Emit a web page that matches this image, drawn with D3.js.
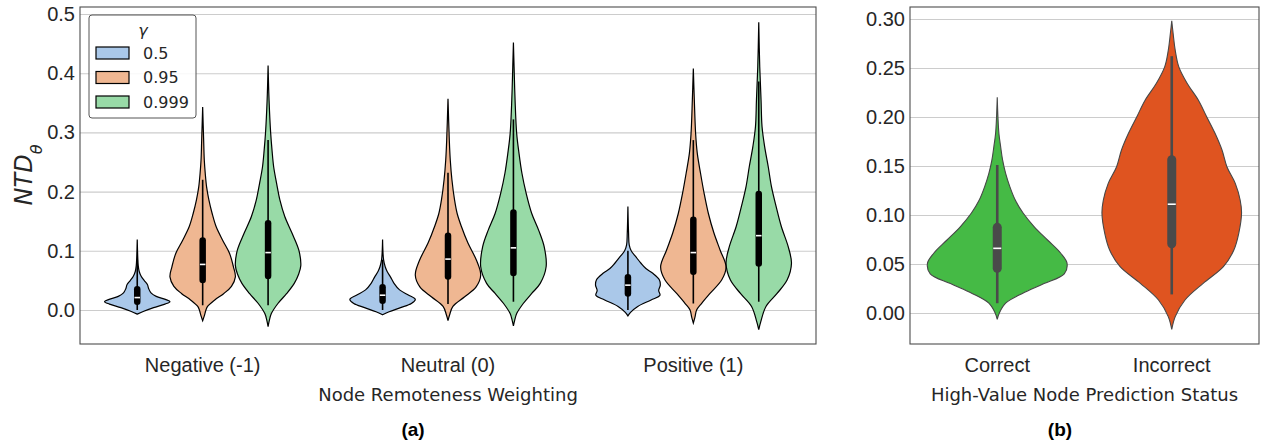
<!DOCTYPE html>
<html>
<head>
<meta charset="utf-8">
<script src="https://cdn.jsdelivr.net/npm/d3@7"></script>
<style>
  body { margin: 0; background: #fff; }
  svg { font-family: "DejaVu Sans", sans-serif; }
</style>
</head>
<body>
<svg width="1262" height="445"></svg>
<script>
// panel (a) categories and gamma groups
var catsA = ["Negative (-1)", "Neutral (0)", "Positive (1)"];
var gammas = ["0.5", "0.95", "0.999"];
var gammaColors = ["#aac8e9", "#efb792", "#98daa7"];
var ticksA = [0.0, 0.1, 0.2, 0.3, 0.4, 0.5];

// violin outlines: [value, relative half width]
var neg05 = [[-0.007,0],[-0.002,0.2],[0.004,0.5],[0.010,0.85],[0.014,1.0],[0.018,0.86],[0.023,0.58],[0.029,0.42],[0.036,0.35],[0.043,0.31],[0.050,0.21],[0.057,0.12],[0.065,0.06],[0.075,0.03],[0.09,0.015],[0.119,0]];
var neg095 = [[-0.018,0],[-0.01,0.05],[0.0,0.1],[0.006,0.15],[0.017,0.37],[0.028,0.65],[0.04,0.88],[0.056,1.0],[0.073,0.94],[0.096,0.82],[0.118,0.61],[0.141,0.41],[0.163,0.29],[0.186,0.19],[0.208,0.12],[0.23,0.08],[0.253,0.05],[0.287,0.03],[0.343,0]];
var neg0999 = [[-0.028,0],[-0.017,0.04],[-0.006,0.1],[0.011,0.3],[0.028,0.57],[0.045,0.8],[0.06,0.93],[0.075,1.0],[0.101,0.94],[0.13,0.73],[0.158,0.51],[0.186,0.36],[0.214,0.26],[0.242,0.17],[0.27,0.12],[0.298,0.08],[0.354,0.03],[0.413,0]];
var neu05 = [[-0.008,0],[-0.003,0.2],[0.004,0.55],[0.011,0.88],[0.018,1.0],[0.025,0.8],[0.034,0.52],[0.045,0.35],[0.056,0.24],[0.065,0.14],[0.073,0.08],[0.085,0.03],[0.119,0]];
var neu095 = [[-0.018,0],[-0.008,0.05],[0.006,0.15],[0.022,0.5],[0.039,0.86],[0.059,1.0],[0.084,0.87],[0.113,0.61],[0.141,0.41],[0.163,0.28],[0.186,0.2],[0.22,0.12],[0.253,0.07],[0.287,0.04],[0.357,0]];
var neu0999 = [[-0.027,0],[-0.017,0.04],[-0.006,0.1],[0.011,0.3],[0.028,0.56],[0.045,0.82],[0.073,1.0],[0.107,0.94],[0.135,0.77],[0.163,0.56],[0.197,0.39],[0.231,0.26],[0.265,0.17],[0.298,0.1],[0.355,0.05],[0.411,0.02],[0.452,0]];
var pos05 = [[-0.01,0],[-0.004,0.08],[0.006,0.3],[0.017,0.71],[0.025,0.98],[0.033,0.94],[0.042,0.99],[0.051,0.96],[0.062,0.76],[0.07,0.55],[0.079,0.4],[0.09,0.24],[0.1,0.1],[0.11,0.04],[0.13,0.02],[0.175,0]];
var pos095 = [[-0.022,0],[-0.012,0.05],[0.0,0.1],[0.011,0.25],[0.028,0.51],[0.051,0.87],[0.073,1.0],[0.101,0.82],[0.13,0.63],[0.163,0.46],[0.197,0.33],[0.231,0.22],[0.265,0.12],[0.298,0.07],[0.355,0.03],[0.408,0]];
var pos0999 = [[-0.033,0],[-0.02,0.06],[0.006,0.22],[0.028,0.56],[0.051,0.87],[0.079,1.0],[0.107,0.9],[0.141,0.69],[0.175,0.53],[0.208,0.39],[0.242,0.29],[0.276,0.18],[0.31,0.1],[0.355,0.07],[0.411,0.03],[0.486,0]];
var shapesA = [[neg05, neg095, neg0999], [neu05, neu095, neu0999], [pos05, pos095, pos0999]];

// inner box: [whisker low, q1, median, q3, whisker high]
var boxesA = [
  [[0.0, 0.0085, 0.021, 0.0405, 0.085], [0.008, 0.045, 0.077, 0.123, 0.22], [0.008, 0.052, 0.097, 0.152, 0.287]],
  [[0.0, 0.010, 0.025, 0.044, 0.085], [0.01, 0.051, 0.086, 0.131, 0.232], [0.014, 0.057, 0.105, 0.170, 0.322]],
  [[0.0, 0.0225, 0.042, 0.061, 0.1], [0.011, 0.059, 0.097, 0.158, 0.287], [0.014, 0.073, 0.1256, 0.2015, 0.386]]
];

// panel (b)
var catsB = ["Correct", "Incorrect"];
var colorsB = ["#45ba45", "#df5420"];
var ticksB = [0.00, 0.05, 0.10, 0.15, 0.20, 0.25, 0.30];
var correct = [[-0.0065,0],[0.0,0.03],[0.01,0.12],[0.02,0.36],[0.03,0.67],[0.04,0.96],[0.0507,1.0],[0.061,0.91],[0.0745,0.72],[0.088,0.53],[0.102,0.37],[0.115,0.26],[0.129,0.18],[0.1425,0.12],[0.156,0.077],[0.17,0.048],[0.183,0.024],[0.2,0.01],[0.22,0]];
var incorrect = [[-0.0167,0],[-0.0037,0.05],[0.0133,0.19],[0.0303,0.45],[0.0473,0.74],[0.0643,0.89],[0.0813,0.96],[0.1017,1.0],[0.1153,0.98],[0.1323,0.91],[0.1493,0.79],[0.1663,0.72],[0.1833,0.62],[0.2003,0.5],[0.2173,0.38],[0.2344,0.22],[0.2514,0.1],[0.268,0.05],[0.285,0.02],[0.298,0]];
var shapesB = [correct, incorrect];
var boxesB = [[0.010, 0.041, 0.066, 0.092, 0.151], [0.019, 0.066, 0.111, 0.161, 0.262]];

var svg = d3.select("svg");
var textColor = "#262626";

var panelA = {left: 80, right: 816, top: 7, bottom: 344};
var panelB = {left: 910, right: 1259, top: 7, bottom: 344};

var yA = d3.scaleLinear().domain([-0.0574, 0.5118]).range([panelA.bottom, panelA.top]);
var xA = d3.scaleBand().domain(catsA).range([panelA.left, panelA.right]);
var xGamma = d3.scaleBand().domain(gammas).range([0, xA.bandwidth() * 0.8]);

var yB = d3.scaleLinear().domain([-0.0316, 0.3122]).range([panelB.bottom, panelB.top]);
var xB = d3.scaleBand().domain(catsB).range([panelB.left, panelB.right]);

// draws one panel's grid and axes
var drawFrame = function(p, y, x, ticks, fmt) {
  svg.append("g")
    .attr("transform", "translate(" + p.left + ",0)")
    .call(d3.axisLeft(y).tickValues(ticks).tickSize(-(p.right - p.left)).tickFormat(""))
    .call(function(g) {
      g.select(".domain").remove();
      g.selectAll("line").attr("stroke", "#cccccc").attr("stroke-width", 1.1);
    });

  svg.append("g")
    .attr("transform", "translate(" + p.left + ",0)")
    .call(d3.axisLeft(y).tickValues(ticks).tickSize(0).tickPadding(5).tickFormat(fmt))
    .call(function(g) {
      g.select(".domain").remove();
      g.selectAll("text").attr("fill", textColor).style("font-size", "20px");
    });

  svg.append("g")
    .attr("transform", "translate(0," + p.bottom + ")")
    .call(d3.axisBottom(x).tickSize(0).tickPadding(14))
    .call(function(g) {
      g.select(".domain").remove();
      g.selectAll("text").attr("fill", textColor).style("font-size", "20px");
    });
};

var frameRect = function(p) {
  svg.append("rect")
    .attr("x", p.left).attr("y", p.top)
    .attr("width", p.right - p.left).attr("height", p.bottom - p.top)
    .attr("fill", "none").attr("stroke", "#4d4d4d").attr("stroke-width", 1.1);
};

drawFrame(panelA, yA, xA, ticksA, d3.format(".1f"));
drawFrame(panelB, yB, xB, ticksB, d3.format(".2f"));

var drawViolin = function(shape, box, cx, halfW, y, fill, edge, edgeW, boxColor, boxW, whiskW) {
  var area = d3.area()
    .curve(d3.curveCatmullRom.alpha(0.5))
    .y(function(d) { return y(d[0]); })
    .x0(function(d) { return cx - d[1] * halfW; })
    .x1(function(d) { return cx + d[1] * halfW; });

  svg.append("path")
    .datum(shape)
    .attr("d", area)
    .attr("fill", fill)
    .attr("stroke", edge)
    .attr("stroke-width", edgeW);

  // whisker
  svg.append("line")
    .attr("x1", cx).attr("x2", cx)
    .attr("y1", y(box[0])).attr("y2", y(box[4]))
    .attr("stroke", boxColor).attr("stroke-width", whiskW);

  // box
  svg.append("rect")
    .attr("x", cx - boxW / 2).attr("width", boxW)
    .attr("y", y(box[3])).attr("height", y(box[1]) - y(box[3]))
    .attr("rx", boxW / 2).attr("ry", boxW / 2)
    .attr("fill", boxColor);

  // median
  svg.append("line")
    .attr("x1", cx - boxW / 2 + 0.5).attr("x2", cx + boxW / 2 - 0.5)
    .attr("y1", y(box[2])).attr("y2", y(box[2]))
    .attr("stroke", "white").attr("stroke-width", 1.6);
};

catsA.forEach(function(cat, i) {
  gammas.forEach(function(g, j) {
    var cx = xA(cat) + xA.bandwidth() * 0.1 + xGamma(g) + xGamma.bandwidth() / 2;
    drawViolin(shapesA[i][j], boxesA[i][j], cx, xGamma.bandwidth() / 2, yA,
      gammaColors[j], "#000", 1.2, "#000", 6.5, 1.6);
  });
});

catsB.forEach(function(cat, i) {
  var cx = xB(cat) + xB.bandwidth() / 2;
  drawViolin(shapesB[i], boxesB[i], cx, xB.bandwidth() * 0.4, yB,
    colorsB[i], "#474747", 1.1, "#4a4a4a", 9, 2.6);
});

frameRect(panelA);
frameRect(panelB);

// legend
var legend = svg.append("g").attr("transform", "translate(89,15)");
legend.append("rect")
  .attr("width", 107).attr("height", 103).attr("rx", 3)
  .attr("fill", "white").attr("fill-opacity", 0.85)
  .attr("stroke", "#555").attr("stroke-width", 1);
legend.append("text")
  .attr("x", 54).attr("y", 15)
  .attr("text-anchor", "middle").attr("dominant-baseline", "central")
  .attr("font-style", "italic").attr("fill", textColor)
  .style("font-size", "16px").text("γ");
gammas.forEach(function(g, j) {
  var row = legend.append("g").attr("transform", "translate(0," + (38 + j * 24.5) + ")");
  row.append("rect")
    .attr("x", 7).attr("y", -6).attr("width", 33).attr("height", 12)
    .attr("fill", gammaColors[j]).attr("stroke", "#000").attr("stroke-width", 1.2);
  row.append("text")
    .attr("x", 54).attr("y", 0).attr("dominant-baseline", "central")
    .attr("fill", textColor).style("font-size", "16px").text(g);
});

// axis titles
svg.append("text")
  .attr("transform", "translate(32,175) rotate(-90)")
  .attr("text-anchor", "middle")
  .attr("font-style", "italic").attr("fill", textColor)
  .style("font-size", "24px")
  .html('NTD<tspan baseline-shift="sub" font-size="16px">θ</tspan>');

svg.append("text")
  .attr("x", (panelA.left + panelA.right) / 2).attr("y", 401)
  .attr("text-anchor", "middle").attr("fill", textColor)
  .style("font-size", "18px").text("Node Remoteness Weighting");
svg.append("text")
  .attr("x", (panelB.left + panelB.right) / 2).attr("y", 401)
  .attr("text-anchor", "middle").attr("fill", textColor)
  .style("font-size", "18px").text("High-Value Node Prediction Status");

svg.append("text")
  .attr("x", 413).attr("y", 436)
  .attr("text-anchor", "middle").attr("font-weight", "bold").attr("fill", "#000")
  .style("font-family", "'Liberation Sans', Arial, sans-serif")
  .style("font-size", "19px").text("(a)");
svg.append("text")
  .attr("x", 1060).attr("y", 436)
  .attr("text-anchor", "middle").attr("font-weight", "bold").attr("fill", "#000")
  .style("font-family", "'Liberation Sans', Arial, sans-serif")
  .style("font-size", "19px").text("(b)");
</script>
</body>
</html>
